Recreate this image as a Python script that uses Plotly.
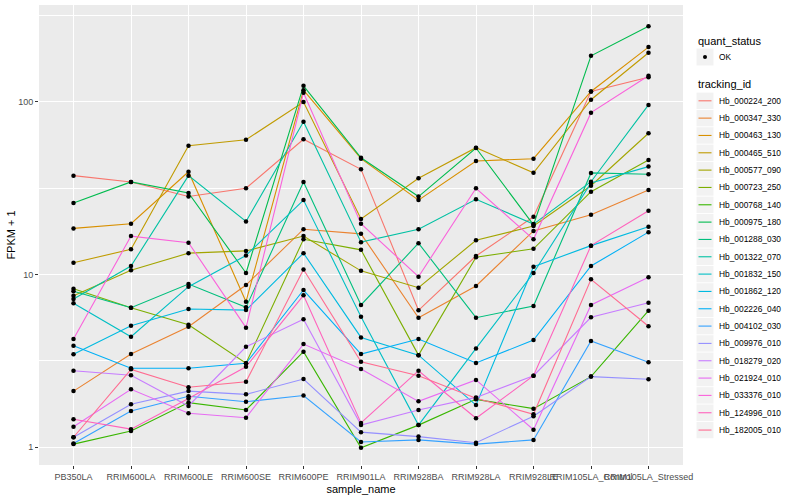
import plotly.graph_objects as go

samples = ["PB350LA", "RRIM600LA", "RRIM600LE", "RRIM600SE", "RRIM600PE", "RRIM901LA",
           "RRIM928BA", "RRIM928LA", "RRIM928LE", "RRIM105LA_Control", "RRIM105LA_Stressed"]

tracking_ids = ["Hb_000224_200", "Hb_000347_330", "Hb_000463_130", "Hb_000465_510", "Hb_000577_090",
                "Hb_000723_250", "Hb_000768_140", "Hb_000975_180", "Hb_001288_030", "Hb_001322_070",
                "Hb_001832_150", "Hb_001862_120", "Hb_002226_040", "Hb_004102_030", "Hb_009976_010",
                "Hb_018279_020", "Hb_021924_010", "Hb_033376_010", "Hb_124996_010", "Hb_182005_010"]

palette = ["#F8766D", "#EA8331", "#D89000", "#C09B00", "#A3A500", "#7CAE00", "#39B600", "#00BB4E",
           "#00BF7D", "#00C1A3", "#00BFC4", "#00BAE0", "#00B0F6", "#35A2FF", "#9590FF", "#C77CFF",
           "#E76BF3", "#FA62DB", "#FF62BC", "#FF6C91"]

# FPKM + 1 per sample (order of `samples`)
hb_000224_200 = [37.4, 34.4, 28.3, 31.6, 60.8, 40.7, 6.2, 12.8, 21.6, 115, 139]
hb_000347_330 = [2.11, 3.46, 4.98, 8.69, 18.3, 17.2, 5.62, 8.58, 17.9, 22.2, 30.9]
hb_000463_130 = [18.5, 19.7, 39.4, 6.96, 117, 46.9, 27.0, 45.5, 46.9, 115, 208]
hb_000465_510 = [11.7, 14.0, 55.8, 60.4, 100, 21.0, 36.1, 54.3, 38.9, 103, 193]
hb_000577_090 = [7.54, 10.6, 13.3, 13.7, 16.7, 10.5, 8.38, 15.8, 19.1, 32.7, 65.9]
hb_000723_250 = [8.27, 6.42, 5.12, 3.06, 16.0, 13.9, 3.41, 12.6, 14.1, 30.2, 46.1]
hb_000768_140 = [1.04, 1.24, 1.81, 1.64, 3.57, 0.99, 1.34, 1.89, 1.67, 2.56, 6.17]
hb_000975_180 = [26.0, 34.4, 29.7, 10.2, 124, 47.5, 28.3, 54.1, 19.4, 185, 275]
hb_001288_030 = [8.0, 6.42, 8.81, 6.45, 34.4, 6.66, 15.2, 5.62, 6.57, 38.8, 38.1]
hb_001322_070 = [7.21, 11.2, 37.4, 20.3, 76.9, 15.4, 18.3, 27.3, 19.6, 34.5, 96.1]
hb_001832_150 = [6.81, 4.36, 8.50, 12.9, 27.0, 5.69, 1.34, 3.73, 10.2, 33.9, 42.2]
hb_001862_120 = [3.45, 5.05, 6.31, 6.22, 13.3, 4.32, 3.41, 1.75, 11.1, 14.7, 18.9]
hb_002226_040 = [3.87, 2.86, 2.86, 3.06, 8.13, 3.46, 4.23, 3.07, 4.17, 11.2, 17.6]
hb_004102_030 = [1.05, 1.62, 1.97, 1.83, 1.99, 1.07, 1.10, 1.04, 1.10, 4.12, 3.10]
hb_009976_010 = [1.14, 1.77, 2.11, 2.02, 2.48, 1.22, 1.15, 1.06, 1.51, 2.56, 2.47]
hb_018279_020 = [2.77, 2.61, 1.73, 3.81, 5.50, 1.34, 1.64, 1.94, 2.59, 5.65, 6.86]
hb_021924_010 = [1.31, 2.16, 1.57, 1.48, 3.95, 2.83, 1.84, 2.45, 1.26, 6.66, 9.63]
hb_033376_010 = [4.23, 16.7, 15.3, 4.92, 113, 19.7, 9.71, 31.6, 16.0, 86.7, 142]
hb_124996_010 = [1.45, 1.27, 1.91, 2.92, 7.57, 1.38, 2.77, 1.47, 2.59, 14.7, 23.4]
hb_182005_010 = [1.14, 2.82, 2.22, 2.39, 10.7, 3.12, 2.59, 1.92, 1.55, 9.38, 5.01]

series = [hb_000224_200, hb_000347_330, hb_000463_130, hb_000465_510, hb_000577_090,
          hb_000723_250, hb_000768_140, hb_000975_180, hb_001288_030, hb_001322_070,
          hb_001832_150, hb_001862_120, hb_002226_040, hb_004102_030, hb_009976_010,
          hb_018279_020, hb_021924_010, hb_033376_010, hb_124996_010, hb_182005_010]

FONT = "Liberation Sans, Arial, sans-serif"
W, H = 800, 500
ML, MR, MT, MB = 39, 117, 5, 35
PW, PH = W - ML - MR, H - MT - MB

fig = go.Figure()
for tid, col, vals in zip(tracking_ids, palette, series):
    fig.add_trace(go.Scatter(x=samples, y=vals, mode="lines", name=tid,
                             line=dict(color=col, width=1.1), showlegend=False, hoverinfo="skip"))
for tid, vals in zip(tracking_ids, series):
    fig.add_trace(go.Scatter(x=samples, y=vals, mode="markers", name=tid,
                             marker=dict(color="black", size=4.5), showlegend=False))

# ---- manual ggplot-style legend (layout positions in pixels -> paper) ----
def px(x):
    return (x - ML) / PW

def py(y):
    return (H - MB - y) / PH

shapes = []
annotations = []
annotations.append(dict(x=px(695.5), y=py(40.5), xref="paper", yref="paper", text="quant_status",
                        showarrow=False, xanchor="left", yanchor="middle",
                        font=dict(family=FONT, size=11, color="black")))
shapes.append(dict(type="rect", xref="paper", yref="paper", x0=px(696.5), x1=px(713.5),
                   y0=py(65.5), y1=py(48.5), fillcolor="#F2F2F2", line=dict(width=0), layer="above"))
shapes.append(dict(type="circle", xref="paper", yref="paper", x0=px(703), x1=px(707),
                   y0=py(59), y1=py(55), fillcolor="black", line=dict(width=0), layer="above"))
annotations.append(dict(x=px(717), y=py(57), xref="paper", yref="paper", text="OK",
                        showarrow=False, xanchor="left", yanchor="middle",
                        font=dict(family=FONT, size=8.4, color="black")))
annotations.append(dict(x=px(695.5), y=py(84.5), xref="paper", yref="paper", text="tracking_id",
                        showarrow=False, xanchor="left", yanchor="middle",
                        font=dict(family=FONT, size=11, color="black")))
for i, (tid, col) in enumerate(zip(tracking_ids, palette)):
    yc = 100.8 + 17.33 * i
    shapes.append(dict(type="rect", xref="paper", yref="paper", x0=px(696.5), x1=px(713.5),
                       y0=py(yc + 8.2), y1=py(yc - 8.2), fillcolor="#F2F2F2", line=dict(width=0),
                       layer="above"))
    shapes.append(dict(type="line", xref="paper", yref="paper", x0=px(698.5), x1=px(711.5),
                       y0=py(yc), y1=py(yc), line=dict(color=col, width=1.1), layer="above"))
    annotations.append(dict(x=px(717), y=py(yc), xref="paper", yref="paper", text=tid,
                            showarrow=False, xanchor="left", yanchor="middle",
                            font=dict(family=FONT, size=8.4, color="black")))

fig.update_layout(
    width=W, height=H,
    margin=dict(l=ML, r=MR, t=MT, b=MB, pad=0),
    paper_bgcolor="white", plot_bgcolor="#EBEBEB",
    font=dict(family=FONT, size=9, color="#4D4D4D"),
    shapes=shapes, annotations=annotations,
    showlegend=False,
    xaxis=dict(type="category", categoryorder="array", categoryarray=samples,
               range=[-0.6, 10.6], showgrid=True, gridcolor="white", gridwidth=1.1,
               zeroline=False, showline=False, ticks="outside", ticklen=3, tickwidth=1,
               tickcolor="#333333", tickangle=0,
               tickfont=dict(family=FONT, size=9, color="#4D4D4D"),
               title=dict(text="sample_name", font=dict(family=FONT, size=11, color="black"),
                          standoff=4),
               automargin=False),
    yaxis=dict(type="log", range=[-0.104, 2.562], tickvals=[1, 10, 100], ticktext=["1", "10", "100"],
               showgrid=True, gridcolor="white", gridwidth=1.1, zeroline=False, showline=False,
               ticks="outside", ticklen=3, tickwidth=1, tickcolor="#333333",
               tickfont=dict(family=FONT, size=9, color="#4D4D4D"),
               minor=dict(tickvals=[3.1623, 31.623, 316.23], showgrid=True, gridcolor="white",
                          gridwidth=0.55, ticklen=0),
               title=dict(text="FPKM + 1", font=dict(family=FONT, size=11, color="black"),
                          standoff=0),
               automargin=False),
)

fig.write_html("out.html", config={"displayModeBar": False},
               post_script="document.body.style.margin='0';")
